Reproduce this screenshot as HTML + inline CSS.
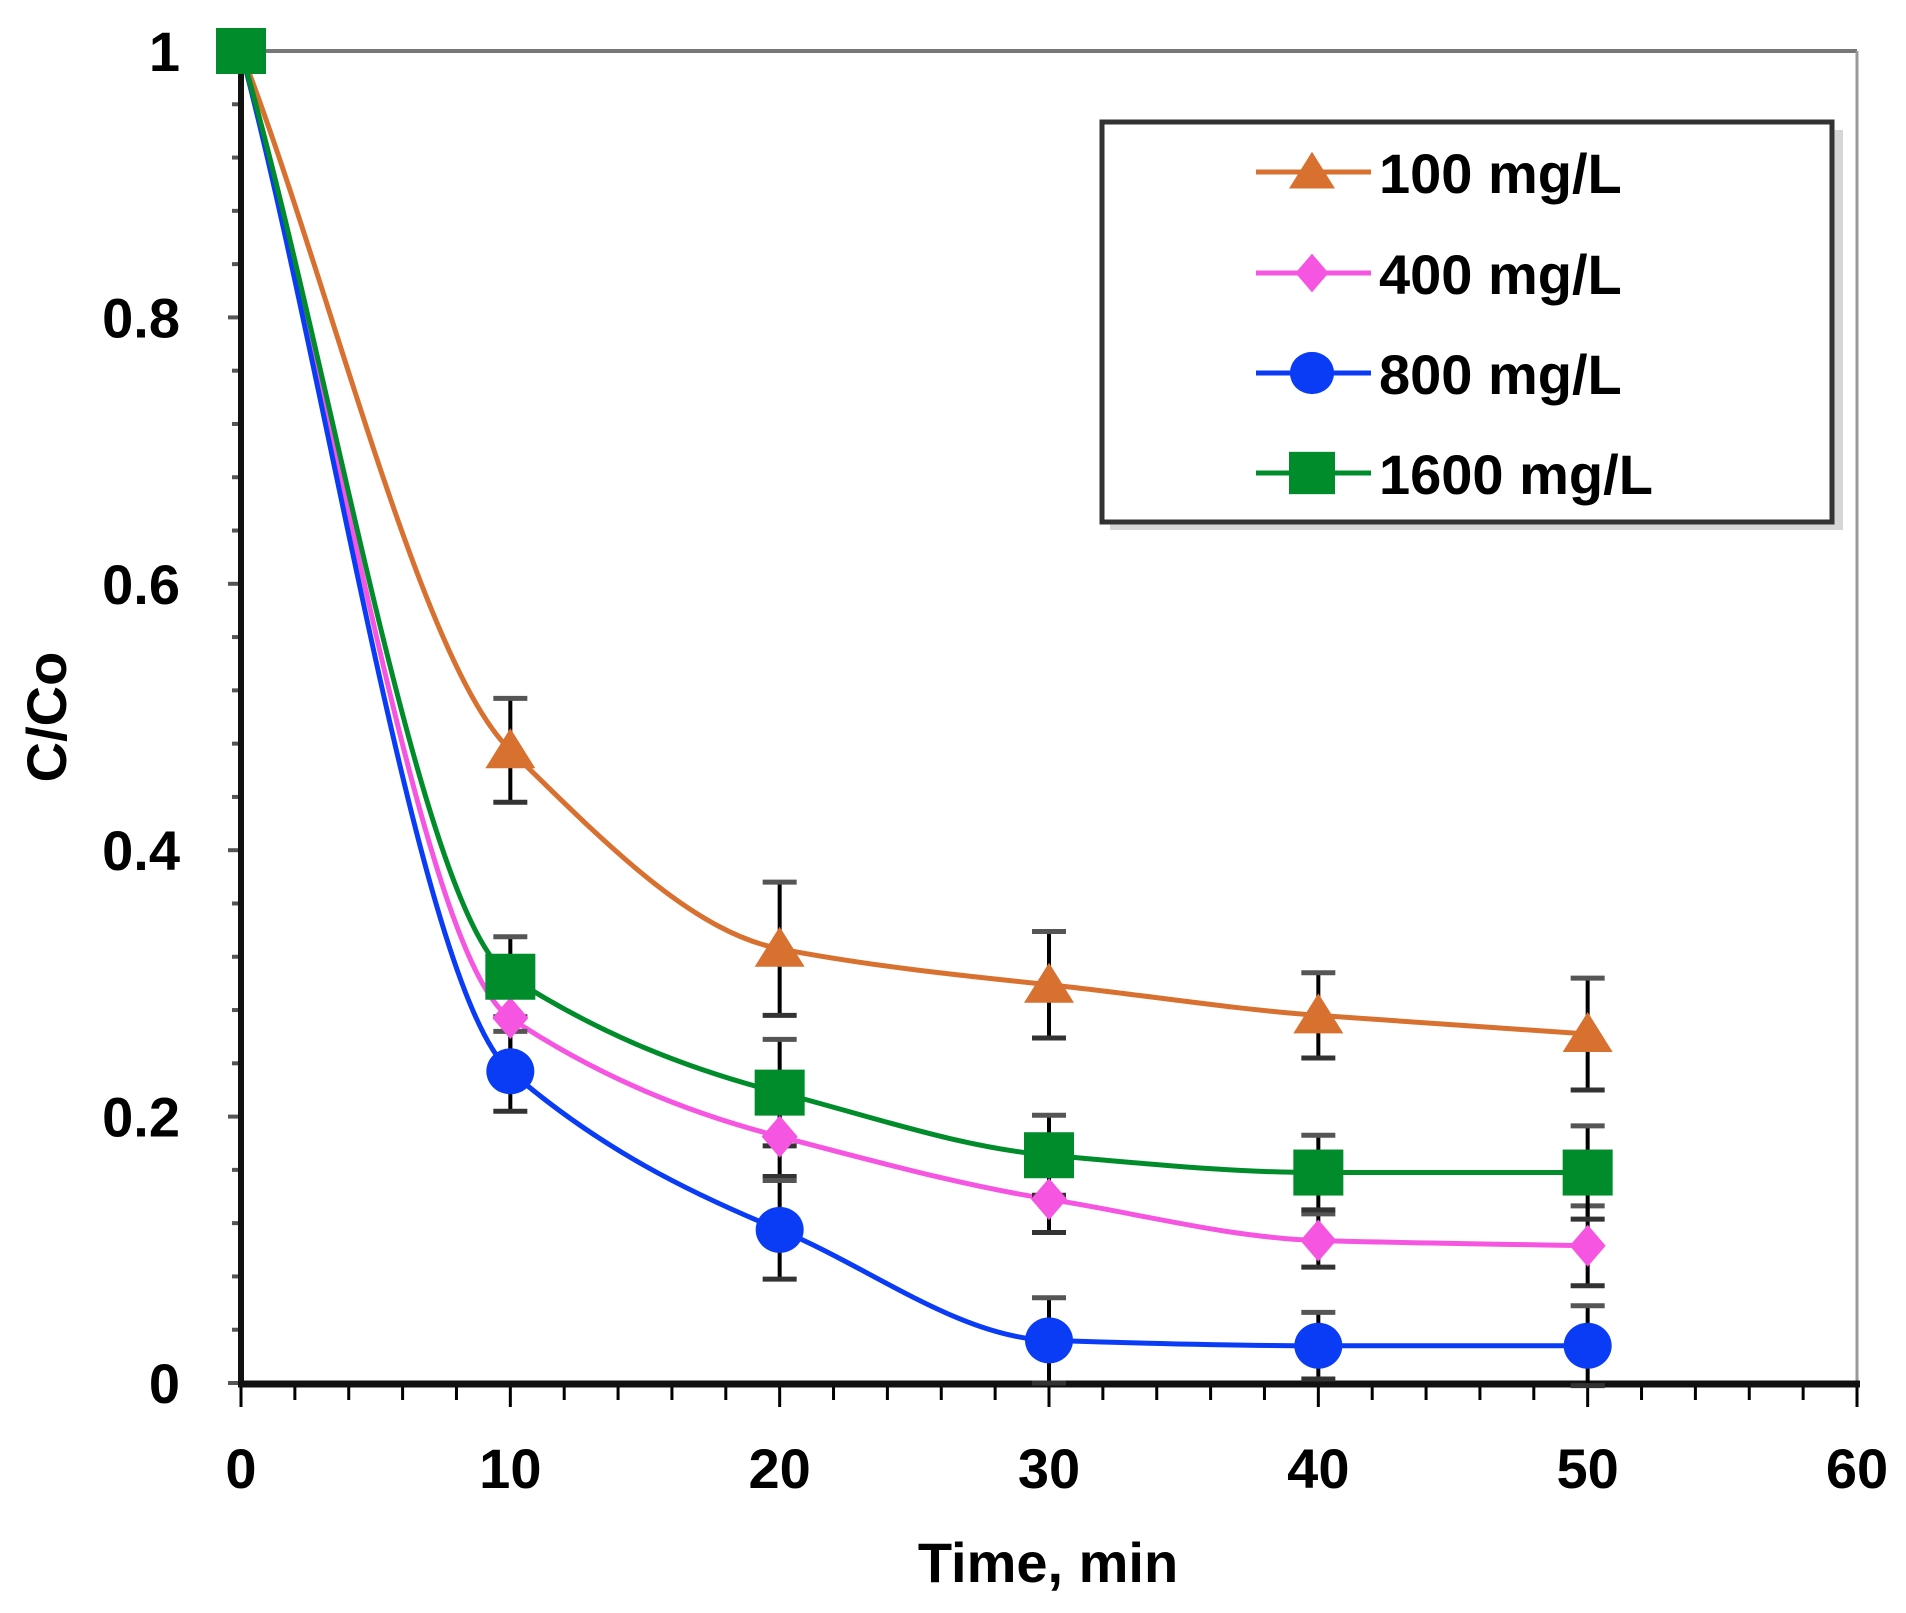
<!DOCTYPE html>
<html><head><meta charset="utf-8"><style>
html,body{margin:0;padding:0;background:#fff;width:1906px;height:1613px;overflow:hidden}
text{font-family:"Liberation Sans",sans-serif;font-weight:bold;fill:#000}
</style></head><body>
<svg id="s" width="1906" height="1613" xmlns="http://www.w3.org/2000/svg"></svg>
<script>
const s=document.getElementById('s');
const X=t=>241+t*(1857-241)/60, Y=v=>1383-v*1332;
let h='';
h+=`<line x1="241" y1="51" x2="1857" y2="51" stroke="#777" stroke-width="4"/>`;
h+=`<line x1="1857" y1="51" x2="1857" y2="1383" stroke="#999" stroke-width="3"/>`;
for(let v=0;v<=1.0001;v+=0.04){h+=`<line x1="${v%0.2<0.01||v%0.2>0.19?228:232}" y1="${Y(v)}" x2="241" y2="${Y(v)}" stroke="#555" stroke-width="4"/>`;}
for(let t=0;t<=60;t+=2){const maj=t%10==0;h+=`<line x1="${X(t)}" y1="1383" x2="${X(t)}" y2="${maj?1407:1400}" stroke="#000" stroke-width="3"/>`;}
h+=`<line x1="241" y1="48" x2="241" y2="1387" stroke="#111" stroke-width="6"/>`;
h+=`<line x1="238" y1="1384" x2="1860" y2="1384" stroke="#111" stroke-width="7"/>`;
[[0,'0'],[0.2,'0.2'],[0.4,'0.4'],[0.6,'0.6'],[0.8,'0.8'],[1,'1']].forEach(([v,l])=>{h+=`<text x="180" y="${Y(v)+20}" font-size="56" text-anchor="end">${l}</text>`;});
for(let t=0;t<=60;t+=10)h+=`<text x="${X(t)}" y="1488" font-size="56" text-anchor="middle">${t}</text>`;
h+=`<text x="1048" y="1582" font-size="56" text-anchor="middle">Time, min</text>`;
h+=`<text transform="translate(66,717) rotate(-90)" font-size="56" text-anchor="middle">C/Co</text>`;
const T=[0,10,20,30,40,50];
const S=[
{c:'#d87030',m:'tri',v:[1,0.475,0.326,0.299,0.276,0.262],e:[0,0.039,0.05,0.04,0.032,0.042]},
{c:'#f555e0',m:'dia',v:[1,0.274,0.185,0.138,0.107,0.103],e:[0,0.03,0.03,0.025,0.02,0.03]},
{c:'#0a3cf5',m:'cir',v:[1,0.234,0.115,0.032,0.028,0.028],e:[0,0.03,0.037,0.032,0.025,0.03]},
{c:'#008c2a',m:'sq',v:[1,0.305,0.218,0.171,0.158,0.158],e:[0,0.03,0.04,0.03,0.028,0.035]}];
function path(p){const n=p.length,d=[],m=[];for(let i=0;i<n-1;i++)d.push((p[i+1][1]-p[i][1])/(p[i+1][0]-p[i][0]));
m[0]=d[0];m[n-1]=d[n-2];for(let i=1;i<n-1;i++){m[i]=(d[i-1]*d[i]<=0)?0:(2/(1/d[i-1]+1/d[i]))*0.85;}
let s=`M${p[0][0]},${p[0][1]}`;for(let i=0;i<n-1;i++){const dx=(p[i+1][0]-p[i][0])/3;s+=` C${p[i][0]+dx},${p[i][1]+m[i]*dx} ${p[i+1][0]-dx},${p[i+1][1]-m[i+1]*dx} ${p[i+1][0]},${p[i+1][1]}`;}return s;}
function mk(m,x,y,c,sc){sc=sc||1;if(m=='tri')return `<polygon points="${x},${y-22*sc} ${x+25*sc},${y+18*sc} ${x-25*sc},${y+18*sc}" fill="${c}"/>`;
if(m=='dia')return `<polygon points="${x},${y-21*sc} ${x+18*sc},${y} ${x},${y+21*sc} ${x-18*sc},${y}" fill="${c}"/>`;
if(m=='cir')return `<ellipse cx="${x}" cy="${y}" rx="${24*sc}" ry="${23*sc}" fill="${c}"/>`;
return `<rect x="${x-25*sc}" y="${y-23*sc}" width="${50*sc}" height="${46*sc}" fill="${c}"/>`;}
let lines='',errs='',marks='';
S.forEach(sr=>{const pts=T.map((t,i)=>[X(t),Y(sr.v[i])]);lines+=`<path d="${path(pts)}" fill="none" stroke="${sr.c}" stroke-width="5"/>`;
T.forEach((t,i)=>{if(sr.e[i]){const x=X(t),y1=Y(sr.v[i]+sr.e[i]),y2=Y(sr.v[i]-sr.e[i]);errs+=`<line x1="${x}" y1="${y1}" x2="${x}" y2="${y2}" stroke="#000" stroke-width="4"/><line x1="${x-17}" y1="${y1}" x2="${x+17}" y2="${y1}" stroke="#555" stroke-width="5"/><line x1="${x-17}" y1="${y2}" x2="${x+17}" y2="${y2}" stroke="#333" stroke-width="5"/>`;}
marks+=mk(sr.m,X(t),Y(sr.v[i]),sr.c);});});
h+=lines+errs+marks;
h+=`<rect x="1110" y="130" width="733" height="400" fill="#bbb" opacity="0.6"/>`;
h+=`<rect x="1102" y="122" width="730" height="400" fill="#fff" stroke="#333" stroke-width="5"/>`;
const labs=['100 mg/L','400 mg/L','800 mg/L','1600 mg/L'];const ly=[172,273,373,473];
S.forEach((sr,i)=>{h+=`<line x1="1256" y1="${ly[i]}" x2="1371" y2="${ly[i]}" stroke="${sr.c}" stroke-width="5"/>`+mk(sr.m,1312,ly[i],sr.c,0.92)+`<text x="1379" y="${ly[i]+21}" font-size="56">${labs[i]}</text>`;});
s.innerHTML=h;
</script>
</body></html>
